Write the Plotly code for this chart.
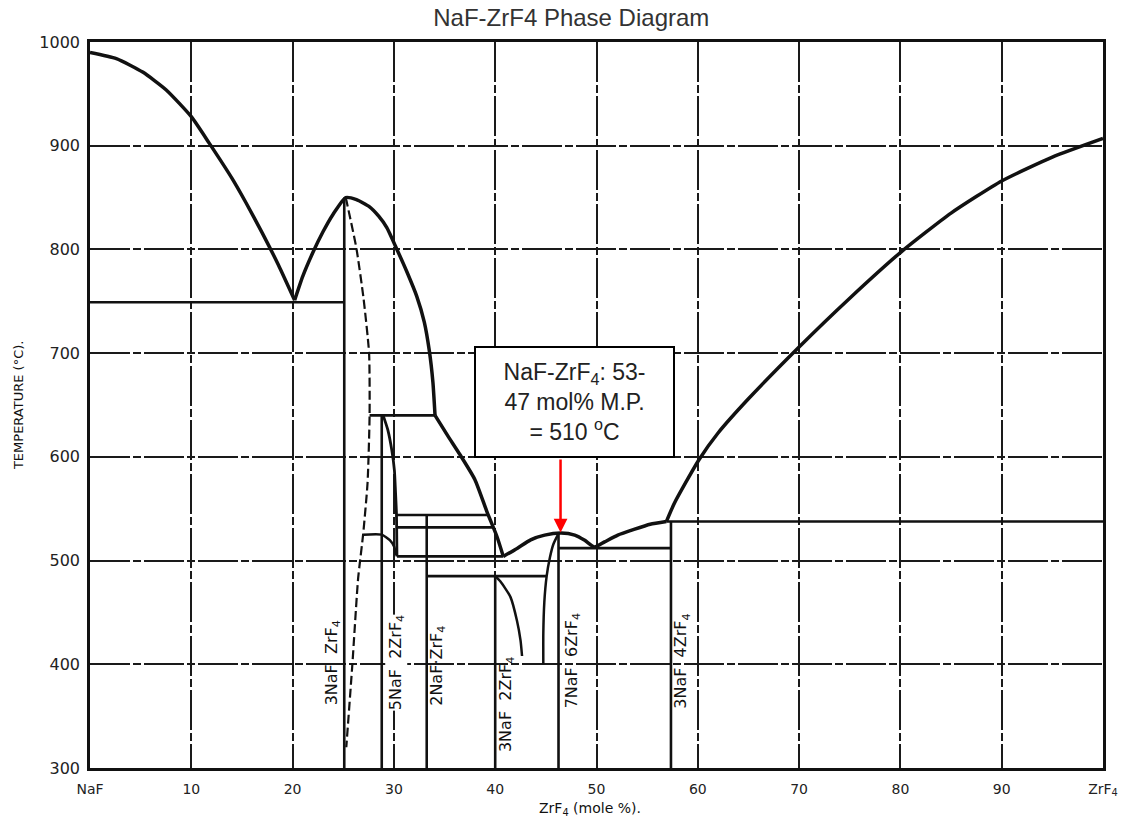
import plotly.graph_objects as go

# ---------------- axis ticks ----------------
x_tickvals = [0, 10, 20, 30, 40, 50, 60, 70, 80, 90, 100]
x_ticktext = ["NaF", "10", "20", "30", "40", "50", "60", "70", "80", "90", "ZrF<sub>4</sub>"]
y_tickvals = [300, 400, 500, 600, 700, 800, 900, 1000]

# ---------------- liquidus curves (mol % ZrF4, °C) ----------------
liq_naf_x = [0, 2.6, 5.2, 7.5, 10, 11.8, 14.05, 15.4, 17, 18.6, 20.2]
liq_naf_y = [990, 984, 971, 954, 928, 902, 868, 845, 816, 785, 751]

liq_31_x = [20.2, 21, 22, 23, 24, 25.25, 26.3, 27.6, 28.5, 29.3, 30.3, 31.3, 32.25, 33.0, 33.5,
            33.85, 34.06]
liq_31_y = [751, 774, 797, 817, 834, 850, 848, 841, 832, 821, 800, 778, 755, 730, 702,
            672, 640]

liq_52_x = [34.06, 35.34, 36.53, 38.0, 39.19, 40.18, 40.8]
liq_52_y = [640, 620, 602, 578, 547, 523, 504]

liq_76_x = [40.8, 42.2, 43.5, 44.88, 46.5, 47.85, 48.84, 49.8, 50.8, 52.1, 53.7, 55.3, 56.9]
liq_76_y = [504, 512, 520, 524.5, 526.5, 524.5, 519.5, 513, 518, 524.5, 530, 535, 537.6]

liq_zrf4_x = [56.9, 57.7, 60.1, 62, 65, 70, 75, 80, 85, 90, 95, 100]
liq_zrf4_y = [537.6, 555.6, 597, 623, 656, 706, 753, 797, 835, 866, 889, 907]

# ---------------- solid-phase boundaries ----------------
bnd_52_x = [28.94, 29.4, 29.8, 30.05, 30.15, 30.25, 30.3]
bnd_52_y = [640, 626, 606, 587, 568, 546, 504]

bnd_525_x = [27.0, 28.8, 29.6, 30.03, 30.2]
bnd_525_y = [525, 525, 519.7, 513.3, 505]

solvus_32_x = [40.0, 40.5, 41.5, 42.15, 42.5, 42.65]
solvus_32_y = [485, 480, 465, 442, 423, 408]

solvus_76_x = [46.25, 45.75, 45.4, 45.08, 44.85, 44.75, 44.75]
solvus_76_y = [526, 516, 503, 485, 460, 430, 400]

dashed_31_x = [25.25, 26.3, 27.0, 27.55, 27.6, 27.4, 26.96, 26.47, 25.9, 25.3]
dashed_31_y = [850, 801, 753, 700, 640, 575, 525, 483, 400, 320]

# isotherms (start x, end x, temperature)
iso_x0 = [0, 27.6, 30.3, 30.3, 30.3, 33.24, 46.25, 56.9]
iso_x1 = [25.1, 34.06, 39.35, 39.85, 40.8, 45.08, 57.35, 100]
iso_t = [749, 640, 544, 532, 504, 485, 512, 537.6]

# compound lines (composition, top temperature)
comp_x = [25.1, 28.8, 33.24, 40.0, 46.25, 57.35]
comp_top = [850, 640, 544, 485, 526, 537.6]
comp_bottom = 300

comp_labels = ["3NaF  ZrF<sub>4</sub>", "5NaF  2ZrF<sub>4</sub>", "2NaF·ZrF<sub>4</sub>",
               "3NaF  2ZrF<sub>4</sub>", "7NaF  6ZrF<sub>4</sub>", "3NaF  4ZrF<sub>4</sub>"]
comp_label_x = [23.9, 30.2, 34.3, 41.1, 47.6, 58.4]
comp_label_y = [401, 402, 399, 361, 403, 403]

# melting point note
mp_x = 46.45
mp_t = 527
note_tail_t = 599

fig = go.Figure()

BLACK = "#111111"

def add_curve(x, y, width, dash="solid", shape="spline"):
    line = dict(color=BLACK, width=width, dash=dash, shape=shape)
    if shape == "spline":
        line["smoothing"] = 0.55
    fig.add_trace(go.Scatter(x=x, y=y, mode="lines", line=line, hoverinfo="skip"))

add_curve(liq_naf_x, liq_naf_y, 3.5)
add_curve(liq_31_x, liq_31_y, 3.5)
add_curve(liq_52_x, liq_52_y, 3.5)
add_curve(liq_76_x, liq_76_y, 3.5)
add_curve(liq_zrf4_x, liq_zrf4_y, 3.5)
add_curve(bnd_52_x, bnd_52_y, 2.8)
add_curve(bnd_525_x, bnd_525_y, 2.5)
add_curve(solvus_32_x, solvus_32_y, 2.5)
add_curve(solvus_76_x, solvus_76_y, 2.5)
add_curve(dashed_31_x, dashed_31_y, 2.2, dash="9px,4px")

# isotherms
ix, iy = [], []
for a, b, t in zip(iso_x0, iso_x1, iso_t):
    ix += [a, b, None]
    iy += [t, t, None]
add_curve(ix, iy, 2.6, shape="linear")

# compound lines
cx, cy = [], []
for xv, top in zip(comp_x, comp_top):
    cx += [xv, xv, None]
    cy += [comp_bottom, top, None]
add_curve(cx, cy, 2.6, shape="linear")

annotations = []
for i, (txt, lx, ly) in enumerate(zip(comp_labels, comp_label_x, comp_label_y)):
    annotations.append(dict(x=lx, y=ly, xref="x", yref="y", text=txt, showarrow=False,
                            textangle=-90, font=dict(family="DejaVu Sans", size=16, color="#111111"),
                            bgcolor="white" if i == 1 else "rgba(0,0,0,0)", borderpad=0,
                            xanchor="center", yanchor="middle"))

# red arrow
annotations.append(dict(x=mp_x, y=mp_t, ax=mp_x, ay=note_tail_t, xref="x", yref="y",
                        axref="x", ayref="y", text="", showarrow=True,
                        arrowhead=2, arrowsize=1.1, arrowwidth=2.5, arrowcolor="#ff0000", standoff=0))
# note box
annotations.append(dict(x=47.85, y=653, xref="x", yref="y",
                        text="NaF-ZrF<sub>4</sub>: 53-<br>47 mol% M.P.<br>= 510 <sup>o</sup>C",
                        showarrow=False, align="center", width=193, height=104,
                        bordercolor="#000000", borderwidth=2, borderpad=2, bgcolor="white",
                        font=dict(family="Liberation Sans", size=23, color="#222222"),
                        xanchor="center", yanchor="middle"))

# axis titles
annotations.append(dict(x=-0.071, y=0.5, xref="paper", yref="paper", text="TEMPERATURE (°C).",
                        showarrow=False, textangle=-90,
                        font=dict(family="DejaVu Sans", size=13, color="#111111"),
                        xanchor="center", yanchor="middle"))
annotations.append(dict(x=0.494, y=-0.056, xref="paper", yref="paper",
                        text="ZrF<sub>4</sub> (mole %).", showarrow=False,
                        font=dict(family="DejaVu Sans", size=14, color="#111111"),
                        xanchor="center", yanchor="middle"))

fig.update_layout(
    width=1129, height=822,
    margin=dict(l=90, r=26, t=42, b=54),
    plot_bgcolor="white", paper_bgcolor="white",
    showlegend=False,
    title=dict(text="NaF-ZrF4 Phase Diagram", xref="container", yref="container",
               x=0.506, y=0.978, xanchor="center", yanchor="middle",
               font=dict(family="Liberation Sans", size=24, color="#333333")),
    annotations=annotations,
)

grid_common = dict(showgrid=True, gridcolor="#1a1a1a", gridwidth=1.5, griddash="40px,3px,8px,3px",
                   showline=True, linecolor="#111111", linewidth=2.5, mirror=True,
                   zeroline=False, ticks="outside", tickcolor="rgba(0,0,0,0)")

fig.update_xaxes(range=[0, 100], tickvals=x_tickvals, ticktext=x_ticktext, ticklen=6,
                 tickfont=dict(family="DejaVu Sans", size=14, color="#222222"), **grid_common)
fig.update_yaxes(range=[300, 1000], tickvals=y_tickvals, ticklen=4,
                 tickfont=dict(family="DejaVu Sans", size=16, color="#222222"), **grid_common)

fig.write_html("out.html")
